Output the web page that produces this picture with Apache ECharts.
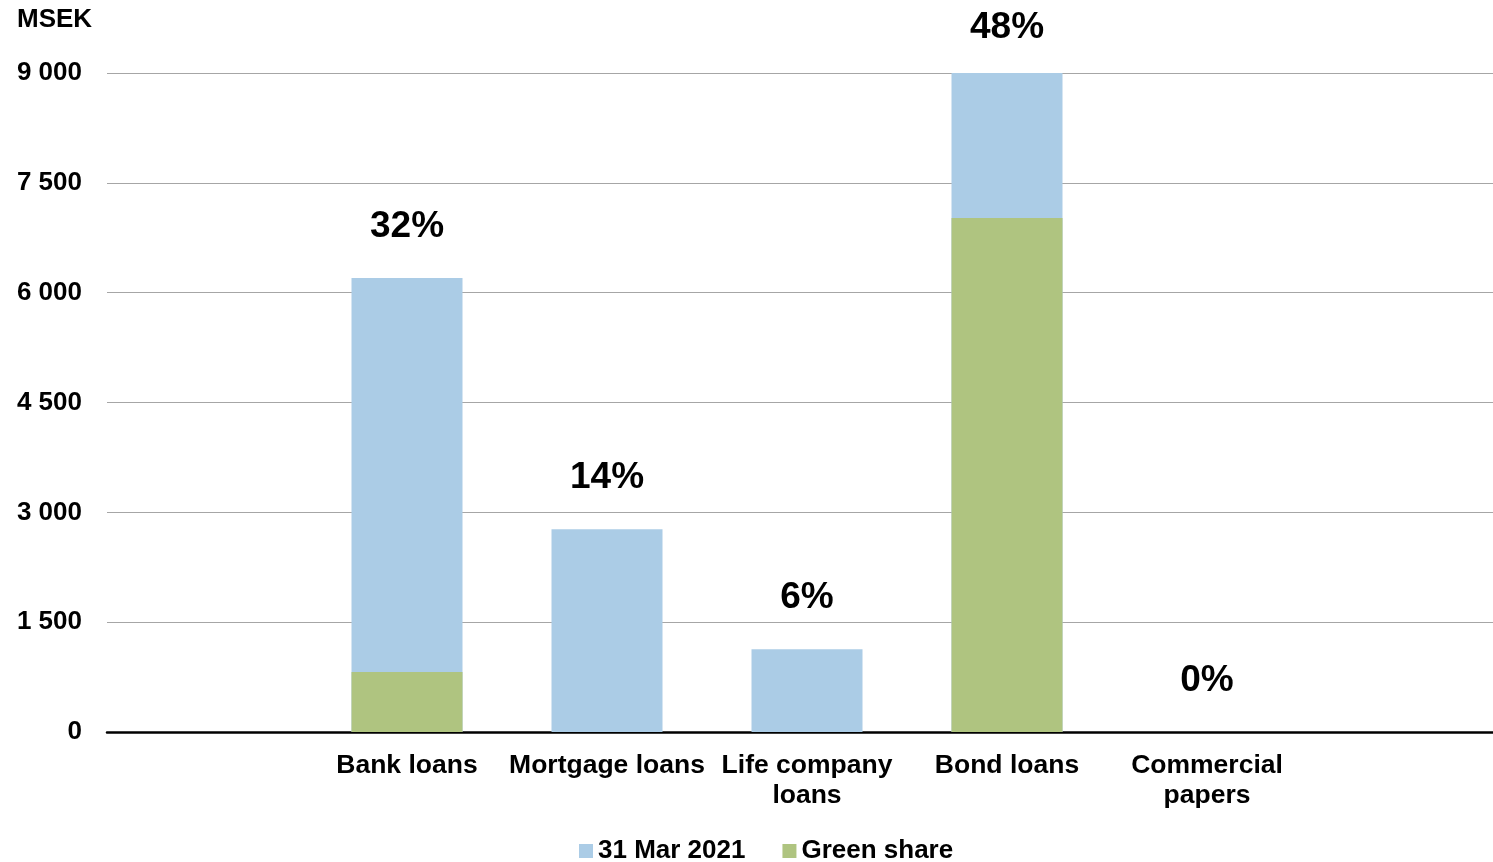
<!DOCTYPE html>
<html>
<head>
<meta charset="utf-8">
<script src="https://cdn.jsdelivr.net/npm/echarts@6/dist/echarts.min.js"></script>
<style>
  html, body { margin: 0; padding: 0; background: #fff; overflow: hidden; }
  /* a bit wider than the window: the plot area runs off the right edge like the original */
  #chart { width: 1507px; height: 862px; }
</style>
</head>
<body>
<div id="chart"></div>
<script>
// categories (empty slots at both ends keep the spacing of the original)
var categories = ['', 'Bank loans', 'Mortgage loans', 'Life company\nloans', 'Bond loans', 'Commercial\npapers', ''];
// 31 Mar 2021 totals, MSEK
var totalValues = [null, 6200, 2770, 1130, 9000, 0, null];
// green share, MSEK
var greenValues = [null, 820, 0, 0, 7020, 0, null];
// share labels above bars
var shareLabels = ['', '32%', '14%', '6%', '48%', '0%', ''];
var seriesNames = ['31 Mar 2021', 'Green share'];

var fontFam = 'Arial, "Liberation Sans", sans-serif';

// 9000 -> "9 000"
function fmtThousands(v) {
  return String(v).replace(/\B(?=(\d{3})+(?!\d))/g, ' ');
}

// the top bar label sits a bit closer to the bar (it hits the top of the canvas)
var totalData = totalValues.map(function (v) {
  if (v === 9000) return { value: v, label: { distance: 27 } };
  return v;
});

var chart = echarts.init(document.getElementById('chart'));
chart.setOption({
  animation: false,
  textStyle: { fontFamily: fontFam },
  graphic: [{
    type: 'text',
    left: 17,
    top: 7,
    style: { text: 'MSEK', font: 'bold 26px ' + fontFam, fill: '#000' }
  }],
  legend: {
    bottom: -7,
    left: 574,
    itemWidth: 14,
    itemHeight: 14,
    itemGap: 37,
    icon: 'rect',
    textStyle: { fontSize: 26, fontWeight: 'bold', color: '#000', fontFamily: fontFam },
    data: seriesNames
  },
  grid: { left: 107, right: 0, top: 73, bottom: 130, containLabel: false },
  xAxis: {
    type: 'category',
    data: categories,
    axisLine: { lineStyle: { color: '#000', width: 2.5 } },
    axisTick: { show: false },
    axisLabel: {
      interval: 0,
      margin: 19,
      fontSize: 26.5,
      fontWeight: 'bold',
      color: '#000',
      lineHeight: 30,
      fontFamily: fontFam
    }
  },
  yAxis: {
    type: 'value',
    min: 0,
    max: 9000,
    interval: 1500,
    axisLine: { show: false },
    axisTick: { show: false },
    splitLine: { lineStyle: { color: '#a6a6a6', width: 1 } },
    axisLabel: {
      margin: 25,
      fontSize: 26,
      fontWeight: 'bold',
      color: '#000',
      fontFamily: fontFam,
      formatter: fmtThousands
    }
  },
  series: [
    {
      name: seriesNames[0],
      type: 'bar',
      data: totalData,
      barWidth: 111,
      barGap: '-100%',
      itemStyle: { color: '#abcce6' },
      label: {
        show: true,
        position: 'top',
        distance: 33,
        fontSize: 37,
        fontWeight: 'bold',
        color: '#000',
        fontFamily: fontFam,
        formatter: function (p) { return shareLabels[p.dataIndex]; }
      }
    },
    {
      name: seriesNames[1],
      type: 'bar',
      data: greenValues,
      barWidth: 111,
      barGap: '-100%',
      itemStyle: { color: '#afc480' }
    }
  ]
});
</script>
</body>
</html>
